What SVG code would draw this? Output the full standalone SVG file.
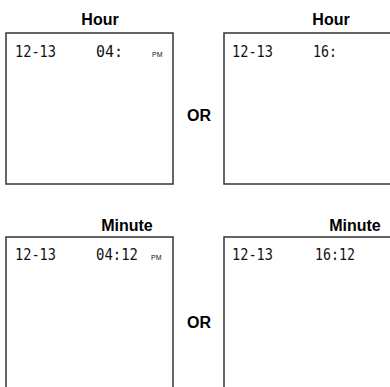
<svg xmlns="http://www.w3.org/2000/svg" width="390" height="387" viewBox="0 0 390 387">
<style>
.box{fill:#fff;stroke:#333;stroke-width:1.5}
.title{font-family:"Liberation Sans",Arial,sans-serif;font-weight:bold;font-size:16px;fill:#000;text-anchor:middle}
.or{font-family:"Liberation Sans",Arial,sans-serif;font-weight:bold;font-size:16px;fill:#000;text-anchor:middle}
.lcd{font-family:"DejaVu Sans Mono","Liberation Mono",monospace;font-size:16px;fill:#111}
.pm{font-family:"Liberation Sans",Arial,sans-serif;font-size:7px;fill:#111}
</style>
<rect width="390" height="387" fill="#fff"/>
<g id="hour-12h">
<text class="title" x="100" y="25">Hour</text>
<rect class="box" x="6" y="33" width="167" height="151"/>
<text class="lcd" x="15" y="57" textLength="41" lengthAdjust="spacingAndGlyphs">12-13</text>
<text class="lcd" x="96" y="57" textLength="27" lengthAdjust="spacingAndGlyphs">04:</text>
<text class="pm" x="152" y="57">PM</text>
</g>
<g id="hour-24h">
<text class="title" x="331" y="25">Hour</text>
<rect class="box" x="224" y="33" width="170" height="151"/>
<text class="lcd" x="232" y="57" textLength="41" lengthAdjust="spacingAndGlyphs">12-13</text>
<text class="lcd" x="313" y="57" textLength="24" lengthAdjust="spacingAndGlyphs">16:</text>
</g>
<g id="minute-12h">
<text class="title" x="127" y="231">Minute</text>
<rect class="box" x="6" y="237" width="167" height="160"/>
<text class="lcd" x="15" y="260" textLength="41" lengthAdjust="spacingAndGlyphs">12-13</text>
<text class="lcd" x="96" y="260" textLength="42" lengthAdjust="spacingAndGlyphs">04:12</text>
<text class="pm" x="151" y="260">PM</text>
</g>
<g id="minute-24h">
<text class="title" x="355" y="231">Minute</text>
<rect class="box" x="224" y="237" width="170" height="160"/>
<text class="lcd" x="232" y="260" textLength="41" lengthAdjust="spacingAndGlyphs">12-13</text>
<text class="lcd" x="315" y="260" textLength="40" lengthAdjust="spacingAndGlyphs">16:12</text>
</g>
<g id="connectors">
<text class="or" x="199" y="121">OR</text>
<text class="or" x="199" y="328">OR</text>
</g>
</svg>
